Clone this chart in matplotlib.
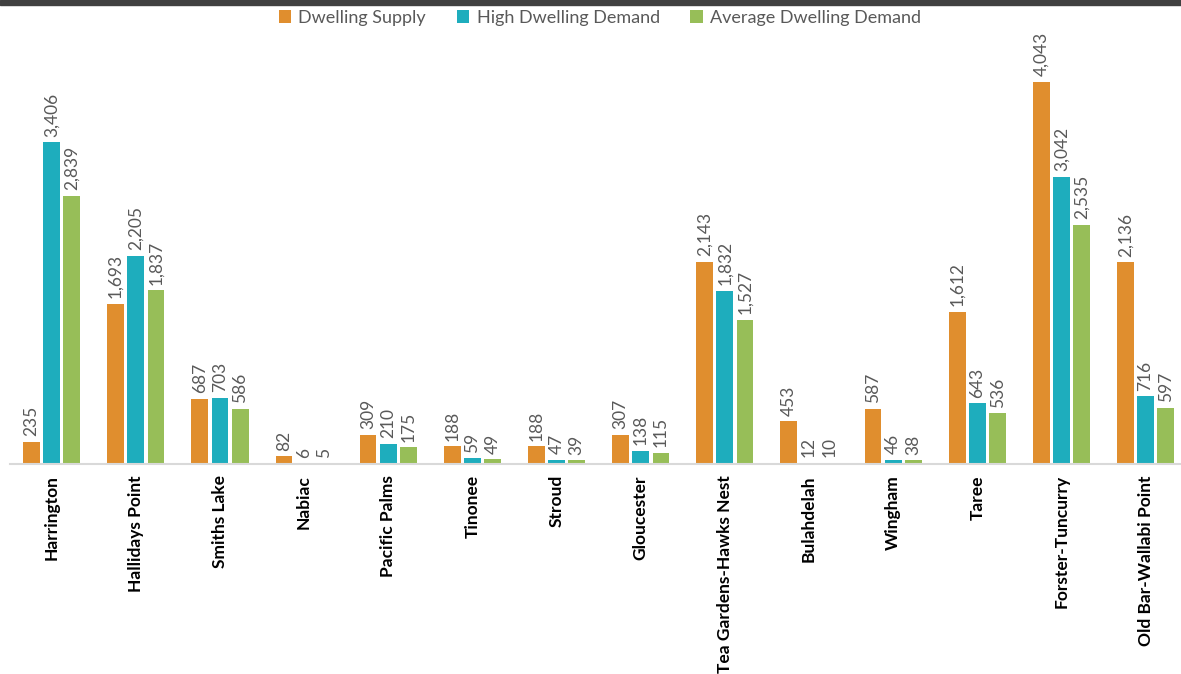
import numpy as np
import matplotlib.pyplot as plt
from matplotlib.patches import Rectangle

plt.rcParams['font.family'] = ['Lato', 'DejaVu Sans']

towns = ['Harrington', 'Hallidays Point', 'Smiths Lake', 'Nabiac', 'Pacific Palms',
         'Tinonee', 'Stroud', 'Gloucester', 'Tea Gardens-Hawks Nest', 'Bulahdelah',
         'Wingham', 'Taree', 'Forster-Tuncurry', 'Old Bar-Wallabi Point']
supply = [235, 1693, 687, 82, 309, 188, 188, 307, 2143, 453, 587, 1612, 4043, 2136]
high_demand = [3406, 2205, 703, 6, 210, 59, 47, 138, 1832, 12, 46, 643, 3042, 716]
avg_demand = [2839, 1837, 586, 5, 175, 49, 39, 115, 1527, 10, 38, 536, 2535, 597]

series_names = ['Dwelling Supply', 'High Dwelling Demand', 'Average Dwelling Demand']
colors = ['#E08E2E', '#1EADBD', '#97BE58']

fig = plt.figure(figsize=(11.81, 6.74), dpi=100)
ax = fig.add_axes([9.6 / 1181, 0.3116, 1 - 9.6 / 1181, 0.653])

# dark strip along the top edge
fig.add_artist(Rectangle((0, 1 - 5 / 674), 1, 5 / 674, transform=fig.transFigure,
                         color='#404040', zorder=10))

x = np.arange(len(towns))
step = 0.24
width = 0.2
for i, (vals, name, col) in enumerate(zip([supply, high_demand, avg_demand], series_names, colors)):
    pos = x + (i - 1) * step
    ax.bar(pos, vals, width, color=col, label=name)
    for p, v in zip(pos, vals):
        ax.text(p, v + 60, f'{v:,}', rotation=90, ha='center', va='bottom',
                fontsize=12.5, color='#595959')

ax.set_xlim(-0.5, -0.5 + (1181 - 9.6) / 84.15)
ax.set_ylim(0, 4660)
ax.set_yticks([])
ax.set_xticks(x)
ax.set_xticklabels(towns, rotation=90, fontsize=12.5, fontweight='bold', color='black')
ax.tick_params(axis='x', length=0, pad=8)
for s in ['top', 'right', 'left']:
    ax.spines[s].set_visible(False)
ax.spines['bottom'].set_color('#D9D9D9')
ax.spines['bottom'].set_linewidth(1.5)

leg = fig.legend(loc='center', bbox_to_anchor=(0.508, 1 - 18 / 674), ncol=3, frameon=False,
                 fontsize=13, handlelength=0.7, handleheight=0.7, columnspacing=1.7,
                 handletextpad=0.4)
for t in leg.get_texts():
    t.set_color('#595959')

fig.savefig('out.png', dpi=100)
